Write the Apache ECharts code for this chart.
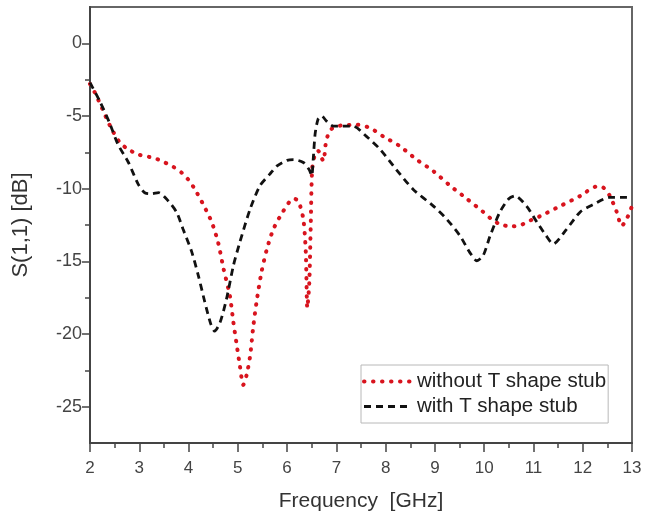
<!DOCTYPE html>
<html>
<head>
<meta charset="utf-8">
<script src="https://cdn.jsdelivr.net/npm/echarts@6/dist/echarts.min.js"></script>
<style>
  html, body { margin: 0; padding: 0; background: #ffffff; }
  #chart { width: 653px; height: 515px; }
</style>
</head>
<body>
<div id="chart"></div>
<script>
// Return loss S(1,1) versus frequency, with and without the T shape stub
const seriesNames = ['without T shape stub', 'with T shape stub'];

const freqWithout = [2.0, 2.1, 2.25, 2.41, 2.61, 2.78, 2.98, 3.18, 3.35, 3.52, 3.69, 3.86,
  4.0, 4.13, 4.3, 4.47, 4.6, 4.71, 4.84, 4.91, 4.98, 5.04, 5.11, 5.18, 5.25, 5.31, 5.38,
  5.48, 5.59, 5.72, 5.86, 6.06, 6.15, 6.23, 6.33, 6.38, 6.41, 6.45, 6.48, 6.51, 6.57, 6.63,
  6.7, 6.74, 6.78, 6.82, 6.9, 7.0, 7.14, 7.41, 7.68, 7.95, 8.29, 8.63, 8.97, 9.31, 9.65,
  9.98, 10.15, 10.32, 10.55, 10.75, 10.86, 11.13, 11.54, 11.95, 12.28, 12.42, 12.55,
  12.69, 12.79, 12.89, 13.0];
const s11Without = [-2.8, -3.4, -4.5, -5.7, -6.85, -7.3, -7.65, -7.8, -7.95, -8.2, -8.5, -8.9,
  -9.4, -10.05, -11.1, -12.3, -13.7, -15.5, -17.4, -19.2, -20.8, -22.15, -23.5, -22.8, -21.5,
  -19.6, -17.8, -15.75, -14.15, -12.8, -11.9, -10.85, -10.7, -10.85, -12.1, -14.4, -18.2,
  -16.5, -12.5, -8.6, -7.6, -7.4, -7.9, -8.1, -7.0, -6.4, -5.9, -5.7, -5.65, -5.6, -5.82,
  -6.4, -7.08, -8.0, -8.8, -9.8, -10.7, -11.6, -12.1, -12.45, -12.6, -12.5, -12.3, -11.9,
  -11.2, -10.5, -9.86, -9.93, -10.5, -11.6, -12.56, -12.1, -11.2];

const freqWith = [2.0, 2.2, 2.4, 2.57, 2.78, 2.98, 3.12, 3.25, 3.39, 3.59, 3.76, 3.89, 4.06,
  4.2, 4.33, 4.45, 4.53, 4.64, 4.77, 4.91, 5.04, 5.25, 5.45, 5.65, 5.79, 6.0, 6.13, 6.33,
  6.45, 6.5, 6.53, 6.57, 6.63, 6.7, 6.8, 6.94, 7.07, 7.34, 7.61, 7.89, 8.22, 8.56, 8.97,
  9.24, 9.51, 9.71, 9.85, 9.98, 10.12, 10.32, 10.5, 10.63, 10.86, 11.07, 11.25, 11.4,
  11.67, 11.95, 12.21, 12.55, 12.76, 13.0];
const s11With = [-2.7, -4.0, -5.5, -6.97, -8.2, -9.7, -10.3, -10.35, -10.27, -10.85, -11.64,
  -12.8, -14.3, -16.0, -17.8, -19.3, -19.8, -19.2, -17.6, -15.3, -13.7, -11.4, -9.8, -9.0,
  -8.45, -8.05, -8.0, -8.2, -8.7, -9.1, -8.0, -6.2, -5.2, -5.0, -5.35, -5.7, -5.7, -5.7,
  -6.4, -7.3, -8.7, -10.05, -11.2, -12.1, -13.25, -14.4, -14.96, -14.6, -13.25, -11.6,
  -10.7, -10.5, -11.2, -12.3, -13.2, -13.8, -12.8, -11.6, -11.1, -10.6, -10.6, -10.6];

const xTicks = [2, 3, 4, 5, 6, 7, 8, 9, 10, 11, 12, 13];
const yMajorTicks = [-25, -20, -15, -10, -5, 0];
const yMinorTicks = [-22.5, -17.5, -12.5, -7.5, -2.5];

function pairs(xs, ys) {
  return xs.map(function (x, i) { return [x, ys[i]]; });
}

const FONT = '"Liberation Sans", Arial, sans-serif';
const RED_LINE = { color: '#d8141e', width: 4, type: [0.5, 8.5], cap: 'round', join: 'round' };
const BLACK_LINE = { color: '#111111', width: 2.8, type: [7, 5], cap: 'butt' };

const chart = echarts.init(document.getElementById('chart'), null, { renderer: 'canvas' });

chart.setOption({
  animation: false,
  backgroundColor: '#ffffff',
  grid: {
    left: 90, right: 21, top: 7, bottom: 72,
    show: true, borderColor: '#666666', borderWidth: 2,
    containLabel: false, outerBoundsMode: 'none'
  },
  legend: {
    orient: 'vertical',
    left: 361, top: 365,
    padding: [6, 2, 6, 1],
    itemWidth: 48, itemHeight: 14, itemGap: 4,
    borderColor: '#b8b8b8', borderWidth: 1,
    backgroundColor: '#ffffff',
    itemStyle: { opacity: 0, borderWidth: 0 },
    textStyle: { fontFamily: FONT, fontSize: 20.5, color: '#222222' },
    data: [
      { name: seriesNames[0], lineStyle: RED_LINE },
      { name: seriesNames[1], lineStyle: BLACK_LINE }
    ]
  },
  xAxis: {
    type: 'value',
    min: 2, max: 13, interval: 1,
    name: 'Frequency  [GHz]',
    nameLocation: 'middle', nameGap: 48,
    nameTextStyle: { fontFamily: FONT, fontSize: 21, color: '#333333' },
    axisLine: { show: true, onZero: false, lineStyle: { color: '#444444', width: 2 } },
    axisTick: { show: true, inside: false, length: 9, lineStyle: { color: '#444444', width: 1.5 },
      customValues: xTicks },
    minorTick: { show: true, splitNumber: 2, length: 5, lineStyle: { color: '#444444', width: 1.5 } },
    axisLabel: { fontFamily: FONT, fontSize: 17, color: '#444444', margin: 17, customValues: xTicks },
    splitLine: { show: false },
    minorSplitLine: { show: false }
  },
  yAxis: [
    {
      type: 'value',
      min: -27.5, max: 2.5, interval: 2.5,
      name: 'S(1,1) [dB]',
      nameLocation: 'middle', nameGap: 58,
      nameTextStyle: { fontFamily: FONT, fontSize: 22, color: '#333333' },
      axisLine: { show: true, onZero: false, lineStyle: { color: '#444444', width: 2 } },
      axisTick: { show: true, inside: false, length: 8, lineStyle: { color: '#444444', width: 1.5 },
        customValues: yMajorTicks },
      axisLabel: { fontFamily: FONT, fontSize: 18, color: '#444444', margin: 8,
        customValues: yMajorTicks },
      splitLine: { show: false }
    },
    {
      type: 'value',
      position: 'left',
      min: -27.5, max: 2.5, interval: 2.5,
      axisLine: { show: false },
      axisTick: { show: true, inside: false, length: 5, lineStyle: { color: '#444444', width: 1.5 },
        customValues: yMinorTicks },
      axisLabel: { show: false },
      splitLine: { show: false }
    }
  ],
  series: [
    {
      name: seriesNames[0],
      type: 'line',
      data: pairs(freqWithout, s11Without),
      smooth: 0.25,
      symbol: 'none',
      z: 3,
      lineStyle: RED_LINE,
      itemStyle: { color: RED_LINE.color }
    },
    {
      name: seriesNames[1],
      type: 'line',
      data: pairs(freqWith, s11With),
      smooth: 0.25,
      symbol: 'none',
      z: 4,
      lineStyle: BLACK_LINE,
      itemStyle: { color: BLACK_LINE.color }
    }
  ]
});
</script>
</body>
</html>
